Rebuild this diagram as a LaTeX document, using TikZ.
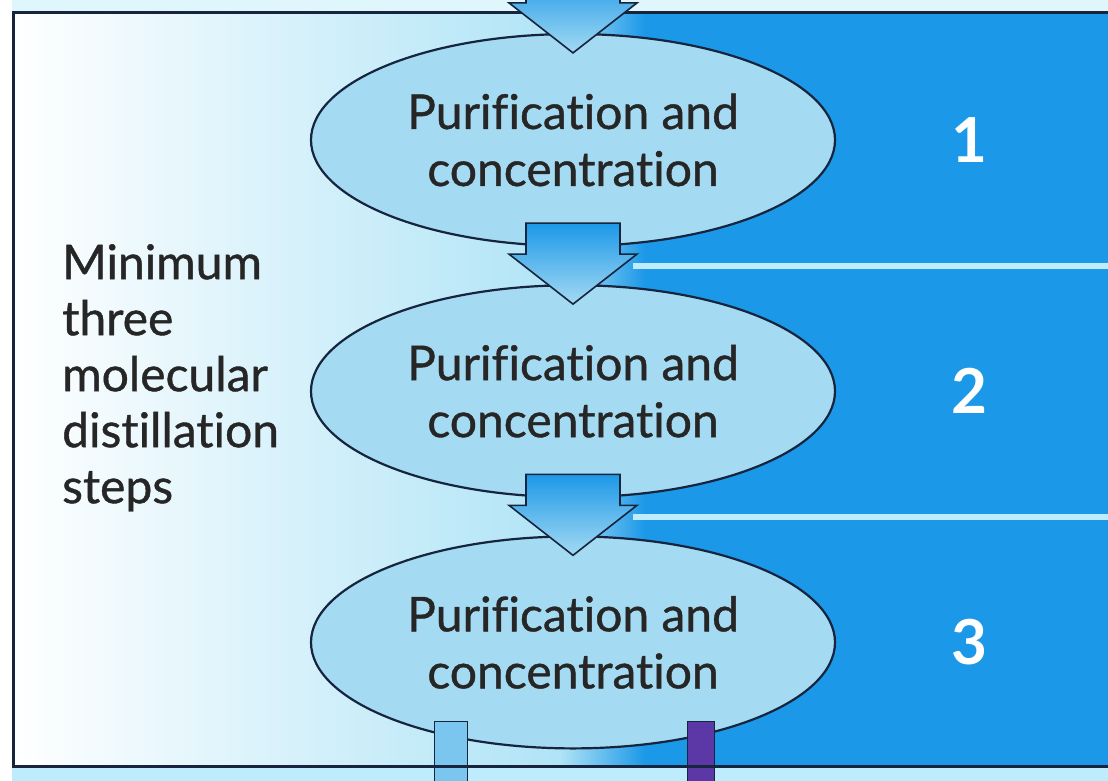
\documentclass[tikz,border=0pt]{standalone}
\usepackage{fontspec}
\setmainfont{Lato}[Ligatures=NoCommon]
\newfontfamily\stagefont{Lato}[Ligatures=NoCommon, FakeBold=0.8]
\usetikzlibrary{shapes.geometric, positioning, calc}

\definecolor{bandblue}{RGB}{28,152,232}
\definecolor{paleblue}{RGB}{176,228,246}
\definecolor{cellblue}{RGB}{164,218,242}
\definecolor{inkblue}{RGB}{22,36,62}
\definecolor{stripe}{RGB}{190,236,252}
\definecolor{drainviolet}{RGB}{92,56,166}

\tikzset{
  stage/.style={ellipse, draw=inkblue, line width=2.2pt, fill=cellblue,
    minimum width=524pt, minimum height=212pt, inner sep=0pt, align=center,
    text=black!85, font=\stagefont\fontsize{48}{57}\selectfont},
  feed/.style={draw=inkblue, line width=1.6pt, top color=bandblue, bottom color=cellblue},
  stepno/.style={inner sep=0pt, text=white, font=\fontsize{62}{62}\selectfont\bfseries},
  drain/.style={draw=inkblue, line width=1.6pt, anchor=north, minimum height=90pt, inner sep=0pt},
  note/.style={inner sep=0pt, align=left, text=black!85, font=\stagefont\fontsize{48}{56}\selectfont}
}

\begin{document}
\begin{tikzpicture}[x=1pt, y=-1pt]
\clip (0,0) rectangle (1108,781);
% backdrop
\fill[white] (0,0) rectangle (1108,781);
\fill[stripe!50!white] (12,0) rectangle (1108,13);
\fill[stripe] (12,766) rectangle (1108,781);
\shade[left color=white, right color=paleblue] (13,13) rectangle (560,766);
\shade[left color=paleblue, right color=bandblue] (560,13) rectangle (645,766);
\fill[bandblue] (645,13) rectangle (1108,766);
%stages
\node[stage] (s1) at (573,140) {Purification and\\concentration};
\node[stage, below=37pt of s1] (s2) {Purification and\\concentration};
\node[stage, below=37pt of s2] (s3) {Purification and\\concentration};
% band lines
\foreach \a/\b in {s1/s2, s2/s3}
  \draw[stripe, line width=6pt] ($(\a.south)!.5!(\b.north)+(60,0)$) -- ++(500,0);
%numbers
\node[stepno, right=115pt of s1] (n1) {1};
\node[stepno, right=115pt of s2] (n2) {2};
\node[stepno, right=115pt of s3] (n3) {3};
\node[note, anchor=north west] (steps) at (62,244) {Minimum\\three\\molecular\\distillation\\steps};
% outlets
\node[drain, fill=cellblue!70!bandblue, minimum width=33pt] (d1) at ($(s3.south)+(-122,-29)$) {};
\node[drain, fill=drainviolet, minimum width=27pt] (d2) at ($(s3.south)+(128,-29)$) {};
% frame
\draw[inkblue, line width=3pt] (1120,13) -- (13,13) -- (13,766) -- (1120,766);
% arrows
\foreach \s in {s1,s2,s3}
  \draw[feed] ($(\s.north)+(0,20)$) -- ++(-64,-50) -- ++(17,0) -- ++(0,-31) -- ++(94,0) -- ++(0,31) -- ++(17,0) -- cycle;
\end{tikzpicture}
\end{document}
